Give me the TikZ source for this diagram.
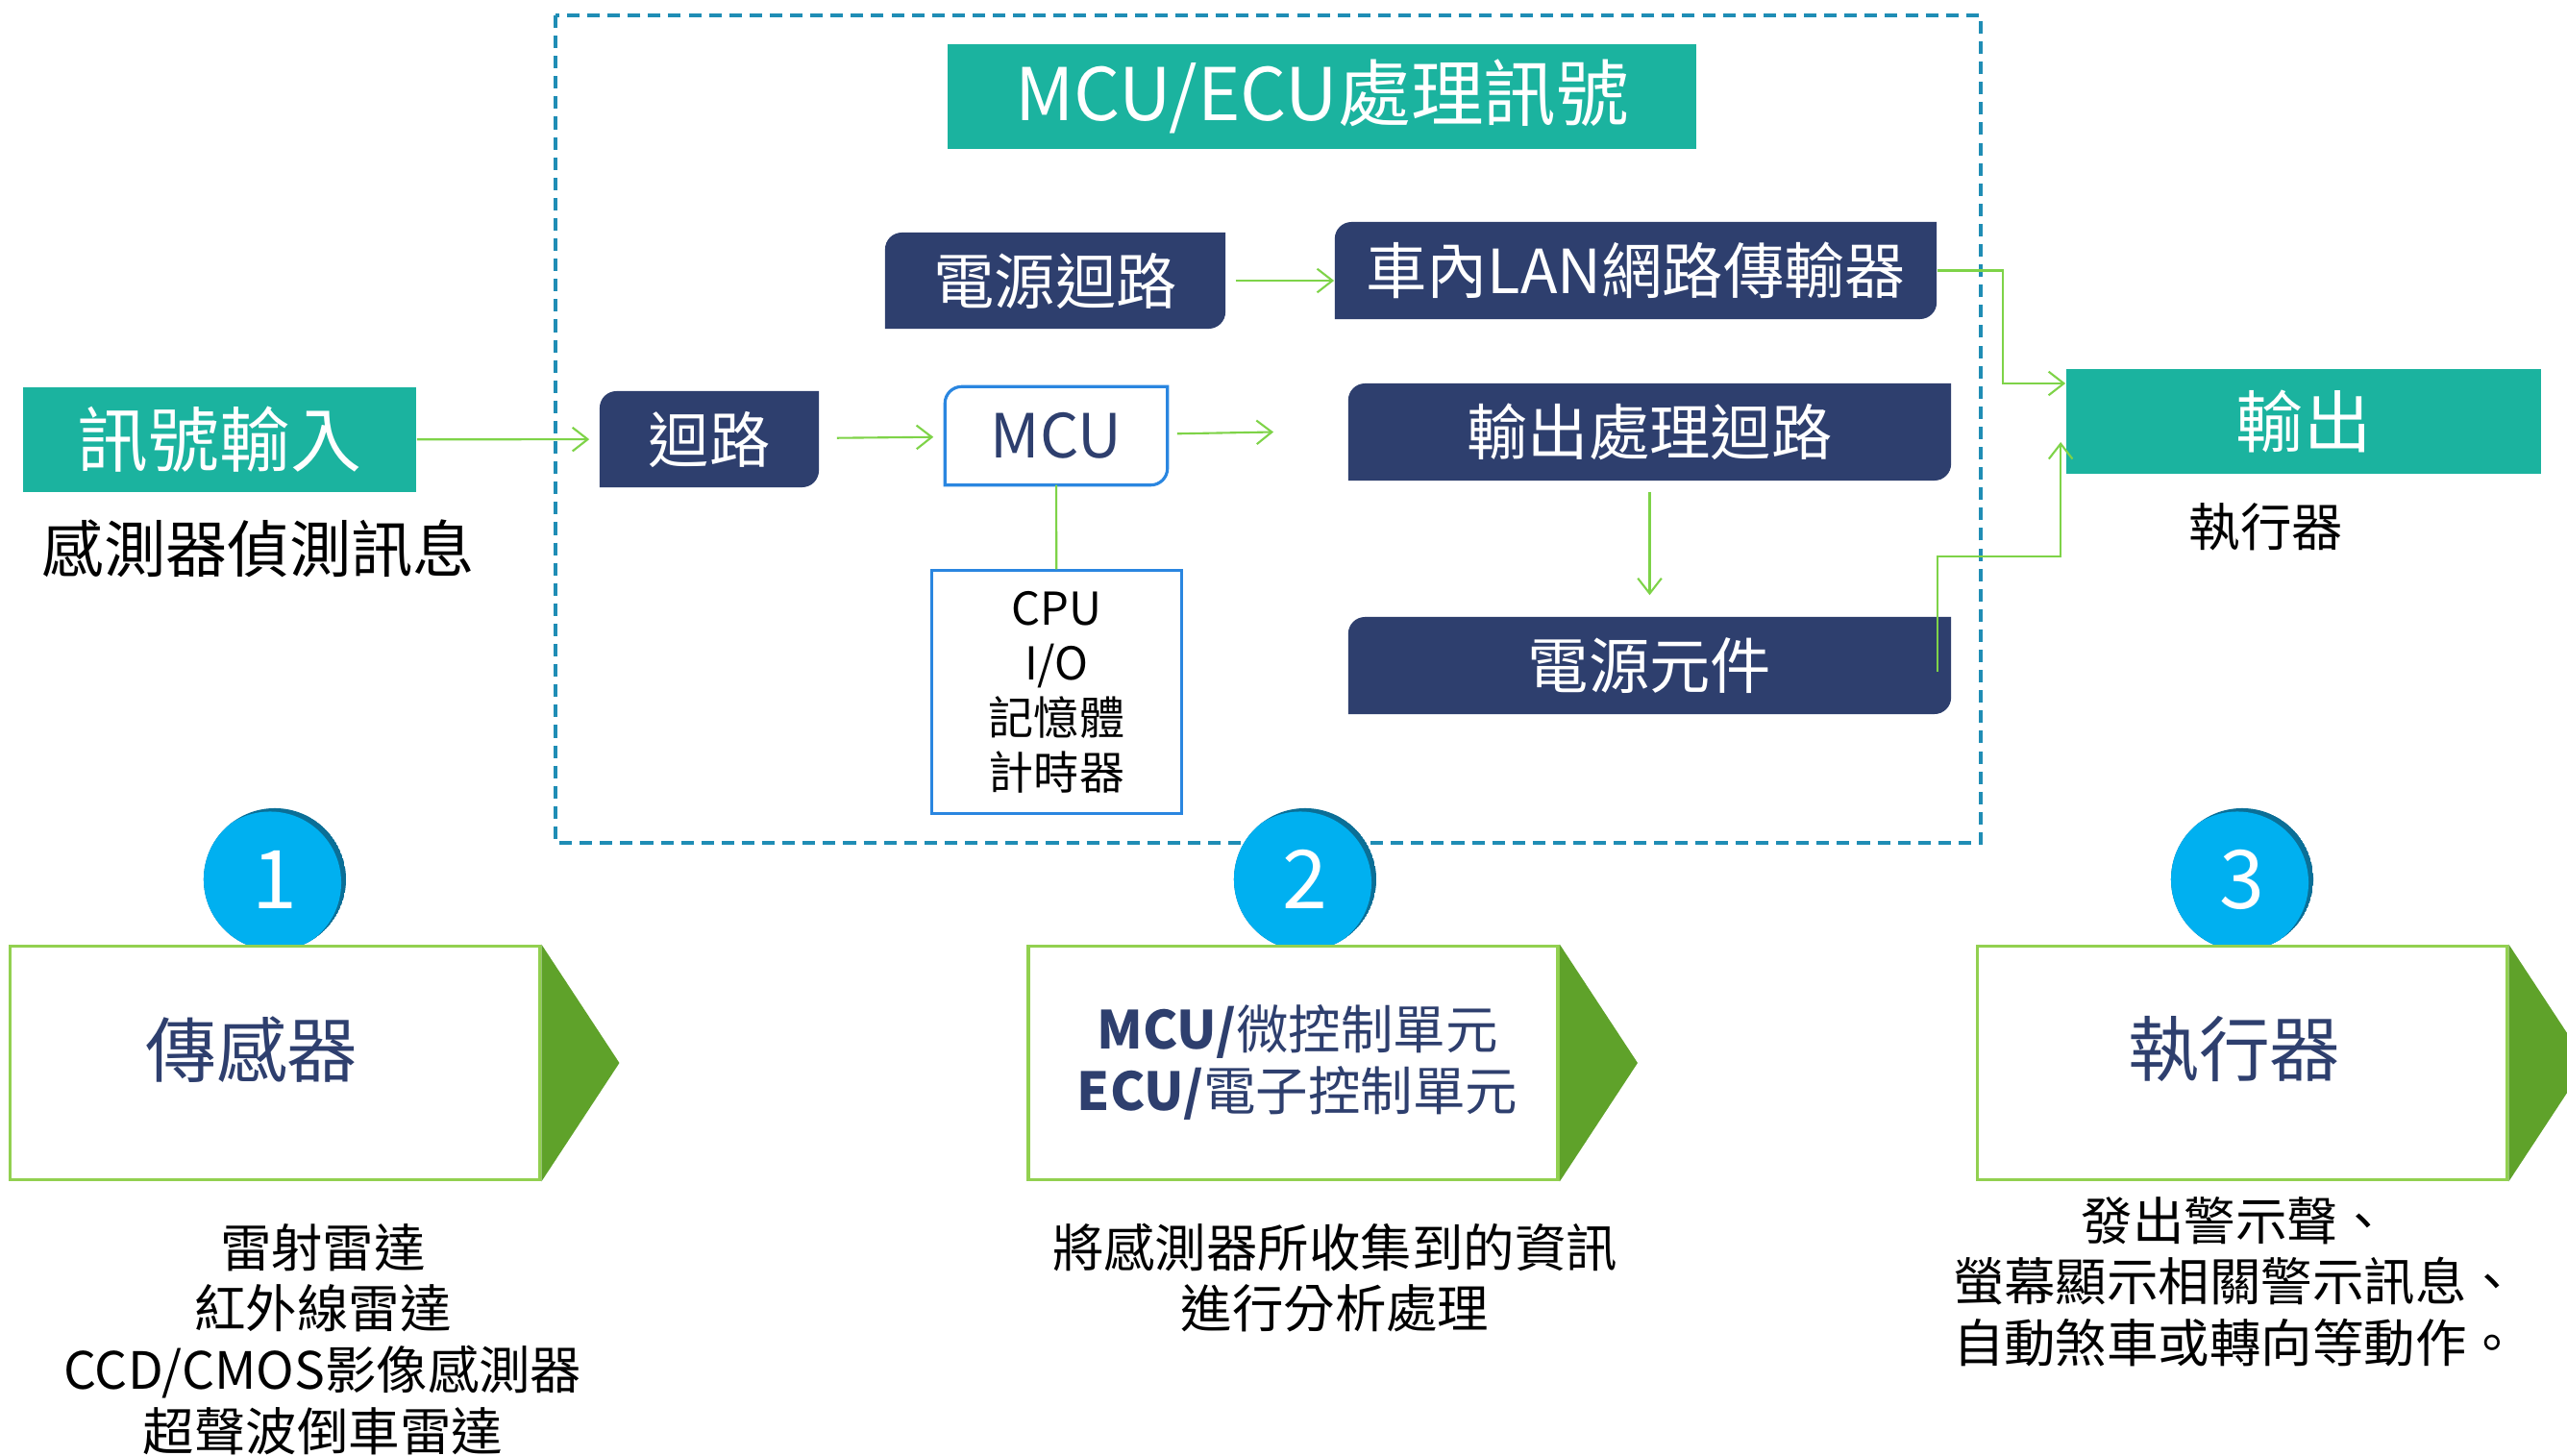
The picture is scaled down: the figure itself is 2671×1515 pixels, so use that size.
\documentclass[tikz,border=0pt]{standalone}
\usepackage{fontspec}
\setmainfont{Noto Sans CJK TC}
\usepackage{xcolor}
\usepackage{tikz}
\usetikzlibrary{arrows.meta,calc}
\definecolor{navy}{HTML}{2E3F6E}
\definecolor{tealbg}{HTML}{1BB39F}
\definecolor{flowgreen}{HTML}{7ED348}
\definecolor{boxgreen}{HTML}{92D050}
\definecolor{tipgreen}{HTML}{5FA22A}
\definecolor{mcublue}{HTML}{2A86E0}
\definecolor{frameblue}{HTML}{1F8DB5}
\definecolor{dotblue}{HTML}{00B0F0}
\definecolor{dotshade}{HTML}{0B6F97}
\newcommand{\diagshape}[1]{(#1.south west) -- ([yshift=-5pt]#1.north west)
  .. controls ([yshift=-2.2pt]#1.north west) and ([xshift=2.2pt]#1.north west) .. ([xshift=5pt]#1.north west)
  -- (#1.north east) -- ([yshift=5pt]#1.south east)
  .. controls ([yshift=2.2pt]#1.south east) and ([xshift=-2.2pt]#1.south east) .. ([xshift=-5pt]#1.south east)
  -- cycle}
\tikzset{
  navybox/.style={text=white, inner sep=0pt, minimum height=1.01cm,
    font=\fontsize{18}{22}\selectfont,
    path picture={\fill[navy] \diagshape{path picture bounding box};}},
  tealbox/.style={fill=tealbg, text=white, inner sep=0pt, minimum height=1.09cm},
  mcubox/.style={inner sep=0pt, minimum height=1.01cm, text=navy, font=\fontsize{18}{22}\selectfont},
  cpubox/.style={draw=mcublue, line width=0.85pt, inner sep=0pt, minimum width=2.59cm,
    minimum height=2.52cm, align=center, font=\fontsize{13.4}{16.2}\selectfont},
  plain/.style={inner sep=0pt, font=\fontsize{#1}{#1}\selectfont},
  note/.style={inner sep=0pt, align=center, font=\fontsize{15.2}{18.1}\selectfont},
  steplabel/.style={inner sep=0pt, text=navy, font=\fontsize{21}{25}\selectfont},
  stepbox/.style={draw=boxgreen, line width=1pt, fill=white, inner sep=0pt,
    minimum width=5.51cm, minimum height=2.43cm},
  numdot/.style={circle, minimum size=1.48cm, inner sep=0pt, text=white,
    font=\fontsize{24}{28}\selectfont,
    path picture={\fill[dotshade] (path picture bounding box.center) circle (0.74cm);
      \fill[dotblue] ([xshift=-0.05cm,yshift=-0.035cm]path picture bounding box.center) circle (0.74cm);}},
  flow/.style={flowgreen, line width=0.6pt, -{Straight Barb[length=4.5pt,width=7pt]}},
  link/.style={flowgreen, line width=0.6pt},
  frame/.style={frameblue, line width=0.9pt, dash pattern=on 3.7pt off 2.3pt},
}
\begin{document}
\begin{tikzpicture}[x=0.01cm, y=-0.01cm]
  \fill[white] (0,0) rectangle (2671,1515);
  \useasboundingbox (0,0) rectangle (2671,1515);
  \draw[frame] (578,16) rectangle (2061,877);

  \node[tealbox, minimum width=7.79cm, font=\fontsize{21.5}{26}\selectfont] (title) at (1375.5,100.5) {MCU/ECU處理訊號};
  \node[tealbox, minimum width=4.09cm, font=\fontsize{21}{25}\selectfont] (sigin) at (228.5,457.5) {訊號輸入};
  \node[plain=18.3pt] (sigtxt) at (269,571) {感測器偵測訊息};
  \node[navybox, minimum width=2.28cm, minimum height=1cm] (loop) at (738,457) {迴路};
  \node[navybox, minimum width=3.54cm, minimum height=1cm] (pwrloop) at (1098,292) {電源迴路};
  \node[navybox, minimum width=6.26cm] (lan) at (1702,281.5) {車內LAN網路傳輸器};
  \node[mcubox, minimum width=2.30cm] (mcu) at (1099,453.5) {MCU};
  \draw[mcublue, line width=0.9pt] \diagshape{mcu};
  \node[navybox, minimum width=6.27cm] (outproc) at (1716.5,449.5) {輸出處理迴路};
  \node[navybox, minimum width=6.27cm] (pwrpart) at (1716.5,692.5) {電源元件};
  \node[cpubox] (cpu) at (1099.5,720) {CPU\\I/O\\記憶體\\計時器};
  \node[tealbox, minimum width=4.94cm, font=\fontsize{20}{24}\selectfont] (out) at (2397,438.5) {輸出};
  \node[plain=15.2pt] (acttxt) at (2358,548) {執行器};

  \draw[flow, shorten >=0.1cm] (sigin) -- (loop);
  \draw[flow, shorten <=0.18cm, shorten >=0.12cm] (loop) -- (mcu);
  \coordinate (mcuend) at ([xshift=-0.77cm]outproc.west);
  \draw[flow, shorten <=0.1cm] (mcu) -- (mcuend);
  \draw[flow, shorten <=0.1cm] (pwrloop.east) -- (pwrloop.east -| lan.west);
  \draw[flow, shorten <=0.11cm, shorten >=0.22cm] (outproc) -- (pwrpart);
  \draw[link] (mcu) -- (cpu);
  \draw[flow] (lan.east) -- ++(68,0) |- ([yshift=0.395cm]out.west);
  \draw[flow] ([xshift=-0.15cm,yshift=-0.065cm]pwrpart.east) -- ++(0,-120) -| ([xshift=-0.05cm,yshift=-0.215cm]out.west);

  \foreach \n/\cx/\bx in {1/286/286, 2/1358/1345.5, 3/2333/2333} {
    \node[numdot] (dot\n) at (\cx,915) {\n};
    \node[stepbox] (box\n) at (\bx,1106) {};
    \fill[tipgreen] (box\n.north east) -- ([xshift=0.81cm]box\n.east) -- (box\n.south east) -- cycle;
  }
  \node[steplabel] (lab1) at (262,1092) {傳感器};
  \node[steplabel, align=center, font=\fontsize{15.5}{18.2}\selectfont] (lab2) at (1350,1105) {\textbf{MCU/}微控制單元\\\textbf{ECU/}電子控制單元};
  \node[steplabel] (lab3) at (2325,1092) {執行器};

  \node[note] (t1) at (336,1393.5) {雷射雷達\\紅外線雷達\\CCD/CMOS影像感測器\\超聲波倒車雷達};
  \node[note] (t2) at (1389,1329.5) {將感測器所收集到的資訊\\進行分析處理};
  \node[note] (t3) at (2326,1333.5) {發出警示聲、\\螢幕顯示相關警示訊息、\\自動煞車或轉向等動作。};
\end{tikzpicture}
\end{document}
